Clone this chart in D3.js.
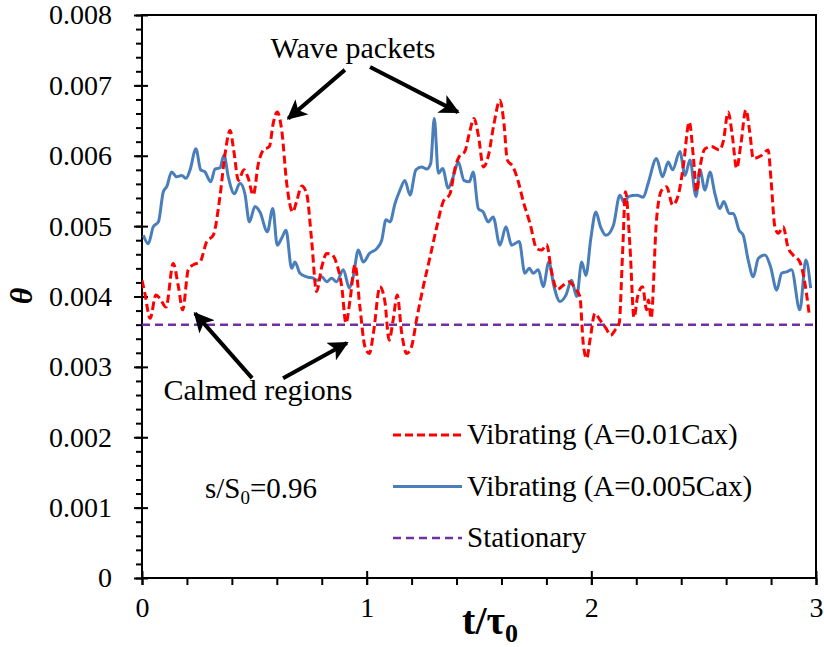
<!DOCTYPE html>
<html>
<head>
<meta charset="utf-8">
<script src="https://cdn.jsdelivr.net/npm/d3@7"></script>
<style>
  body { margin: 0; background: #fff; }
</style>
</head>
<body>
<div id="chart"></div>
<script>
// values
const tRed = [0, 0.013, 0.036, 0.062, 0.08, 0.107, 0.139, 0.162, 0.181, 0.206, 0.228, 0.258, 0.288, 0.317, 0.347, 0.369, 0.392, 0.409, 0.429, 0.454, 0.473, 0.495, 0.518, 0.54, 0.567, 0.584, 0.602, 0.622, 0.644, 0.671, 0.688, 0.711, 0.733, 0.755, 0.777, 0.8, 0.822, 0.844, 0.866, 0.889, 0.908, 0.926, 0.948, 0.97, 0.992, 1.012, 1.03, 1.059, 1.081, 1.1, 1.118, 1.136, 1.156, 1.178, 1.2, 1.222, 1.252, 1.282, 1.312, 1.341, 1.371, 1.393, 1.412, 1.437, 1.457, 1.478, 1.497, 1.52, 1.541, 1.567, 1.593, 1.611, 1.626, 1.652, 1.675, 1.697, 1.727, 1.757, 1.779, 1.801, 1.823, 1.848, 1.875, 1.902, 1.927, 1.949, 1.964, 1.979, 1.994, 2.016, 2.038, 2.065, 2.086, 2.105, 2.124, 2.139, 2.152, 2.172, 2.19, 2.206, 2.228, 2.246, 2.254, 2.266, 2.29, 2.313, 2.335, 2.362, 2.387, 2.409, 2.436, 2.454, 2.469, 2.483, 2.506, 2.535, 2.57, 2.587, 2.609, 2.627, 2.647, 2.665, 2.688, 2.705, 2.721, 2.755, 2.787, 2.8, 2.817, 2.832, 2.854, 2.875, 2.898, 2.928, 2.95, 2.97];
const thetaRed = [0.00423, 0.00404, 0.00369, 0.00402, 0.00397, 0.00385, 0.00447, 0.00414, 0.00381, 0.00438, 0.00445, 0.00449, 0.00478, 0.00487, 0.00542, 0.00601, 0.00636, 0.00606, 0.00565, 0.0058, 0.00568, 0.00544, 0.00589, 0.00608, 0.00613, 0.00646, 0.00662, 0.00636, 0.00561, 0.0052, 0.00535, 0.00557, 0.00546, 0.0048, 0.00407, 0.00442, 0.00461, 0.0046, 0.00447, 0.00414, 0.00362, 0.00395, 0.00445, 0.00385, 0.00329, 0.00319, 0.00348, 0.00414, 0.00393, 0.00338, 0.00367, 0.00402, 0.00348, 0.00319, 0.00329, 0.00367, 0.00414, 0.00456, 0.00499, 0.00535, 0.00546, 0.00582, 0.00599, 0.00606, 0.00632, 0.00653, 0.00629, 0.00584, 0.00599, 0.00646, 0.00679, 0.00646, 0.00594, 0.00584, 0.00563, 0.00535, 0.00504, 0.00468, 0.00466, 0.00474, 0.00435, 0.0041, 0.00416, 0.00421, 0.00412, 0.004, 0.00333, 0.00312, 0.00338, 0.00376, 0.00367, 0.00355, 0.00345, 0.00352, 0.00362, 0.00461, 0.00549, 0.00471, 0.0037, 0.004, 0.00414, 0.00381, 0.00395, 0.00369, 0.00509, 0.00551, 0.00556, 0.0053, 0.00544, 0.00584, 0.00648, 0.00599, 0.00549, 0.00582, 0.0061, 0.00613, 0.00608, 0.0062, 0.00662, 0.0063, 0.00582, 0.00615, 0.00665, 0.00634, 0.00596, 0.006, 0.00608, 0.00565, 0.00499, 0.0049, 0.00499, 0.0047, 0.00459, 0.00449, 0.0042, 0.00374];

const tBlue = [0.006, 0.028, 0.05, 0.073, 0.095, 0.11, 0.132, 0.154, 0.177, 0.196, 0.214, 0.24, 0.261, 0.28, 0.306, 0.325, 0.347, 0.365, 0.384, 0.411, 0.436, 0.458, 0.478, 0.503, 0.525, 0.558, 0.582, 0.602, 0.622, 0.641, 0.666, 0.681, 0.703, 0.733, 0.762, 0.78, 0.8, 0.822, 0.844, 0.866, 0.896, 0.923, 0.94, 0.963, 0.985, 1.012, 1.045, 1.067, 1.086, 1.104, 1.126, 1.148, 1.17, 1.193, 1.219, 1.245, 1.267, 1.285, 1.301, 1.319, 1.338, 1.363, 1.385, 1.408, 1.433, 1.457, 1.474, 1.497, 1.519, 1.541, 1.563, 1.593, 1.62, 1.645, 1.679, 1.704, 1.724, 1.741, 1.764, 1.786, 1.811, 1.834, 1.86, 1.887, 1.912, 1.935, 1.957, 1.976, 1.998, 2.02, 2.041, 2.065, 2.098, 2.127, 2.149, 2.164, 2.202, 2.231, 2.253, 2.29, 2.317, 2.342, 2.362, 2.394, 2.417, 2.439, 2.466, 2.483, 2.506, 2.528, 2.55, 2.572, 2.59, 2.614, 2.632, 2.658, 2.676, 2.698, 2.721, 2.743, 2.773, 2.798, 2.825, 2.847, 2.869, 2.891, 2.928, 2.955, 2.976];
const thetaBlue = [0.00487, 0.00475, 0.00499, 0.00506, 0.00549, 0.00556, 0.00577, 0.0057, 0.00572, 0.00568, 0.0058, 0.0061, 0.0058, 0.00577, 0.00563, 0.00581, 0.00583, 0.00601, 0.0057, 0.00546, 0.00561, 0.00546, 0.00506, 0.00528, 0.0052, 0.00492, 0.00525, 0.00473, 0.00483, 0.00494, 0.0044, 0.00449, 0.00433, 0.00428, 0.00426, 0.00423, 0.00428, 0.00421, 0.00426, 0.00421, 0.00438, 0.00412, 0.00428, 0.00466, 0.00449, 0.00461, 0.00468, 0.0048, 0.00509, 0.00506, 0.00532, 0.00551, 0.00565, 0.00544, 0.0058, 0.00584, 0.00581, 0.00589, 0.00653, 0.00575, 0.00582, 0.00554, 0.0057, 0.00591, 0.00565, 0.00563, 0.00577, 0.00525, 0.0052, 0.00506, 0.00513, 0.00473, 0.00499, 0.00473, 0.00478, 0.00433, 0.0044, 0.00433, 0.00438, 0.00414, 0.00449, 0.00414, 0.00393, 0.00402, 0.00423, 0.004, 0.00449, 0.0043, 0.00483, 0.0052, 0.00499, 0.00487, 0.00501, 0.00544, 0.00532, 0.00542, 0.00544, 0.00541, 0.00561, 0.00596, 0.0057, 0.00591, 0.0058, 0.00606, 0.00572, 0.00594, 0.00542, 0.0058, 0.00551, 0.00577, 0.00546, 0.00525, 0.00535, 0.00518, 0.00518, 0.00494, 0.00487, 0.00452, 0.00428, 0.00454, 0.00459, 0.00442, 0.00409, 0.00433, 0.00435, 0.00438, 0.00381, 0.00452, 0.00412];

const tStat = [0, 3];
const thetaStat = [0.0036, 0.0036];

const xTicks = [0, 1, 2, 3];
const yTicks = [0, 0.001, 0.002, 0.003, 0.004, 0.005, 0.006, 0.007, 0.008];
const legendLabels = ["Vibrating (A=0.01Cax)", "Vibrating (A=0.005Cax)", "Stationary"];

// one family name only
const FONT = '"Liberation Serif"';

// size of the picture and the plot box
const W = 824, H = 647;
const margin = {top: 15, right: 8, bottom: 69, left: 142};
const width = W - margin.left - margin.right,
    height = H - margin.top - margin.bottom;

const svg = d3.select("#chart").append("svg")
    .attr("width", W)
    .attr("height", H);

const g = svg.append("g")
    .attr("transform", `translate(${margin.left}, ${margin.top})`);

const x = d3.scaleLinear().domain([0, 3]).range([0, width]);
const y = d3.scaleLinear().domain([0, 0.008]).range([height, 0]);

function label(sel, size) {
  return sel.style("font-family", FONT).style("font-size", size + "px").attr("fill", "#000");
}

// frame
g.append("rect")
    .attr("width", width).attr("height", height)
    .attr("fill", "none").attr("stroke", "#000").attr("stroke-width", 2);

// minor ticks (outside only)
g.append("g")
    .attr("transform", `translate(0, ${height})`)
    .call(d3.axisBottom(x).tickValues(d3.range(0, 3.01, 0.2)).tickSize(7).tickFormat(""))
    .call(a => a.select(".domain").remove())
    .call(a => a.selectAll("line").attr("stroke-width", 2));
g.append("g")
    .call(d3.axisLeft(y).tickValues(d3.range(0, 0.00801, 0.0002)).tickSize(6).tickFormat(""))
    .call(a => a.select(".domain").remove())
    .call(a => a.selectAll("line").attr("stroke-width", 2));

// major ticks cross the axis
const xAxis = g.append("g")
    .attr("transform", `translate(0, ${height})`)
    .call(d3.axisBottom(x).tickValues(xTicks).tickSize(7).tickPadding(12).tickFormat(d3.format("d")));
xAxis.select(".domain").remove();
xAxis.selectAll("line").attr("y1", -7).attr("stroke-width", 2);
label(xAxis.selectAll("text"), 28);

const yAxis = g.append("g")
    .call(d3.axisLeft(y).tickValues(yTicks).tickSize(8).tickPadding(22)
      .tickFormat(d => d === 0 ? "0" : d3.format(".3f")(d)));
yAxis.select(".domain").remove();
yAxis.selectAll("line").attr("x1", 6).attr("stroke-width", 2);
label(yAxis.selectAll("text"), 28);

// axis titles
const xt = label(svg.append("text"), 40)
    .attr("x", 490).attr("y", 634)
    .attr("text-anchor", "middle")
    .attr("font-weight", "bold");
xt.append("tspan").text("t/τ");
xt.append("tspan").style("font-size", "26px").attr("dy", 8).text("0");

label(svg.append("text"), 32)
    .attr("transform", "translate(32, 296) rotate(-90)")
    .attr("text-anchor", "middle")
    .attr("font-weight", "bold").attr("font-style", "italic")
    .text("θ");

// series
const line = d3.line()
    .x(d => x(d[0]))
    .y(d => y(d[1]))
    .curve(d3.curveMonotoneX);

g.append("clipPath").attr("id", "clip")
    .append("rect").attr("width", width).attr("height", height);

const plot = g.append("g").attr("clip-path", "url(#clip)");

plot.append("path")
    .datum(d3.zip(tStat, thetaStat))
    .attr("d", line)
    .attr("fill", "none").attr("stroke", "#7030a0")
    .attr("stroke-width", 2.5).attr("stroke-dasharray", "8,5");

plot.append("path")
    .datum(d3.zip(tBlue, thetaBlue))
    .attr("d", line)
    .attr("fill", "none").attr("stroke", "#4a7ebb")
    .attr("stroke-width", 3).attr("stroke-linejoin", "round");

plot.append("path")
    .datum(d3.zip(tRed, thetaRed))
    .attr("d", line)
    .attr("fill", "none").attr("stroke", "#ff0000")
    .attr("stroke-width", 3).attr("stroke-dasharray", "8,4");

// legend
const legendStyles = [
  {color: "#ff0000", dash: "8,4", w: 3},
  {color: "#4a7ebb", dash: null, w: 3},
  {color: "#7030a0", dash: "8,5", w: 2.5}
];
const legend = svg.append("g").attr("transform", "translate(393, 435)");
legendLabels.forEach((lab, i) => {
  const row = legend.append("g").attr("transform", `translate(0, ${i * 51.5})`);
  row.append("line")
      .attr("x1", 0).attr("x2", 69).attr("y1", 0).attr("y2", 0)
      .attr("stroke", legendStyles[i].color)
      .attr("stroke-width", legendStyles[i].w)
      .attr("stroke-dasharray", legendStyles[i].dash);
  label(row.append("text"), 29)
      .attr("x", 74).attr("y", 9)
      .text(lab);
});

const st = label(svg.append("text"), 29).attr("x", 205).attr("y", 498);
st.append("tspan").text("s/S");
st.append("tspan").style("font-size", "19px").attr("dy", 6).text("0");
st.append("tspan").attr("dy", -6).text("=0.96");

// annotations
svg.append("defs").append("marker")
    .attr("id", "head")
    .attr("viewBox", "0 0 10 10")
    .attr("refX", 9).attr("refY", 5)
    .attr("markerWidth", 5).attr("markerHeight", 5)
    .attr("markerUnits", "strokeWidth")
    .attr("orient", "auto")
  .append("path")
    .attr("d", "M0,0 L10,5 L0,10 L2.5,5 Z")
    .attr("fill", "#000");

const arrows = [
  [[0.903, 0.00722], [0.651, 0.00653]],
  [[1.015, 0.00726], [1.406, 0.00662]],
  [[0.49, 0.00284], [0.236, 0.00376]],
  [[0.628, 0.00284], [0.912, 0.00334]]
];
arrows.forEach(a => {
  g.append("line")
      .attr("x1", x(a[0][0])).attr("y1", y(a[0][1]))
      .attr("x2", x(a[1][0])).attr("y2", y(a[1][1]))
      .attr("stroke", "#000").attr("stroke-width", 4)
      .attr("marker-end", "url(#head)");
});

label(svg.append("text"), 30)
    .attr("x", 353).attr("y", 58)
    .attr("text-anchor", "middle")
    .text("Wave packets");

label(svg.append("text"), 30)
    .attr("x", 258).attr("y", 400)
    .attr("text-anchor", "middle")
    .text("Calmed regions");
</script>
</body>
</html>
